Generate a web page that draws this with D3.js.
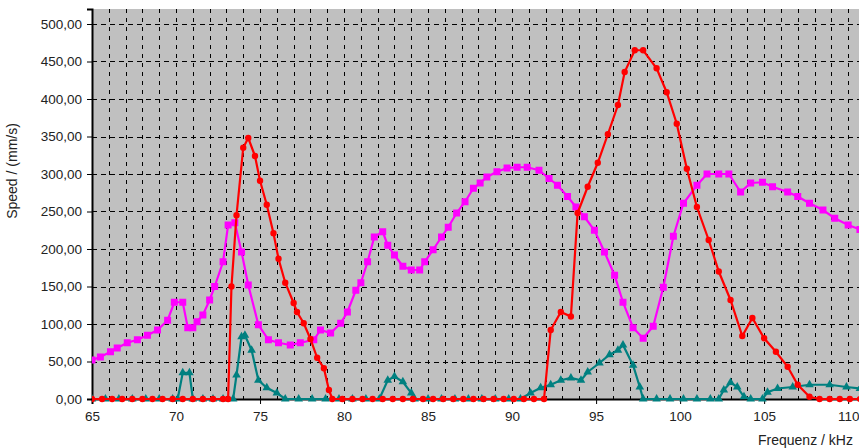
<!DOCTYPE html>
<html>
<head>
  <meta charset="utf-8">
  <title>Speed vs Frequenz</title>
  <script src="https://d3js.org/d3.v7.min.js"></script>
  <style>
    body { margin: 0; background: #fff; }
    .tick text { font-family: 'Liberation Sans', Arial, sans-serif; font-size: 13.5px; fill: #222; }
    .title { font-family: 'Liberation Sans', Arial, sans-serif; font-size: 14px; fill: #222; }
  </style>
</head>
<body>
  <div id="chart"></div>
  <script>
    // data: [frequency kHz, speed mm/s]
    var redPoints = [
      [65,0],[65.6,0],[66.2,0],[66.8,0],[67.4,0],[68,0],[68.6,0],[69.2,0],[69.8,0],[70.4,0],
      [71,0],[71.6,0],[72.2,0],[72.8,0],[73.1,0],[73.3,150],[73.6,245],[74.0,335],[74.3,348],
      [74.7,324],[75.0,291],[75.4,259],[75.8,221],[76.1,187],[76.5,155],[77.0,128],[77.2,116],
      [77.6,101],[78.0,80],[78.4,55],[78.8,41],[79.1,12],[79.3,0],[79.9,0],[80.5,0],[81.1,0],
      [81.7,0],[82.3,0],[82.9,0],[83.5,0],[84.1,0],[84.7,0],[85.3,0],[85.9,0],[86.5,0],[87.1,0],
      [87.7,0],[88.3,0],[88.9,0],[89.5,0],[90.1,0],[90.7,0],[91.3,0],[91.9,0],[92.3,92],
      [92.9,116],[93.5,110],[93.9,248],[94.5,283],[95.1,315],[95.7,353],[96.3,392],[96.7,436],
      [97.3,465],[97.8,465],[98.6,441],[99.2,409],[99.8,367],[100.4,307],[101.0,256],[101.7,212],
      [102.3,170],[103.0,132],[103.7,84],[104.3,108],[105.0,81],[105.7,63],[106.4,43],[107.0,19],
      [107.7,3],[108.3,0],[108.9,0],[109.5,0],[110.1,0],[110.7,0],[111.3,0]
    ];
    var magentaPoints = [
      [65,52],[65.5,56],[66.1,63],[66.5,68],[67.1,75],[67.7,79],[68.3,85],[68.9,92],[69.5,105],
      [69.9,129],[70.4,129],[70.7,95],[71.0,95],[71.25,103],[71.6,112],[72.0,132],[72.3,150],
      [72.8,183],[73.1,232],[73.5,235],[73.9,196],[74.3,152],[74.9,99],[75.5,79],[76.1,75],
      [76.8,72],[77.4,75],[78.2,79],[78.6,92],[79.2,88],[79.8,101],[80.2,116],[80.7,145],
      [81.0,155],[81.4,183],[81.8,216],[82.3,223],[82.6,205],[83.0,192],[83.5,177],[84.0,172],
      [84.5,172],[84.8,183],[85.3,199],[85.8,216],[86.2,229],[86.7,248],[87.2,263],[87.7,281],
      [88.1,288],[88.5,296],[89.1,303],[89.7,308],[90.3,309],[90.9,309],[91.6,305],[92.2,294],
      [92.7,285],[93.3,270],[93.8,256],[94.3,243],[94.9,225],[95.5,196],[96.1,165],[96.6,129],
      [97.2,95],[97.8,81],[98.4,97],[99.0,149],[99.6,217],[100.2,261],[101.0,285],[101.6,300],
      [102.3,300],[102.9,300],[103.6,276],[104.2,288],[104.9,289],[105.5,283],[106.4,276],
      [107.0,270],[107.7,261],[108.5,252],[109.2,241],[110.0,232],[110.7,226],[111.3,221]
    ];
    var tealPoints = [
      [65,0],[65.8,0],[66.6,0],[67.4,0],[68.2,0],[69.0,0],[69.8,0],[70.1,0],[70.4,35],[70.8,35],
      [71.0,0],[71.6,0],[72.2,0],[72.8,0],[73.4,0],[73.6,32],[73.9,83],[74.1,85],[74.5,65],
      [74.9,25],[75.4,15],[76.0,8],[76.5,0],[77.3,0],[78.1,0],[78.9,0],[79.7,0],[80.5,0],
      [81.3,0],[82.1,0],[82.6,25],[83.0,30],[83.5,23],[84.0,8],[84.2,0],[85.0,0],[85.8,0],
      [86.6,0],[87.4,0],[88.2,0],[89.0,0],[89.8,0],[90.5,0],[91.1,8],[91.7,15],[92.3,19],
      [92.9,25],[93.5,28],[94.1,25],[94.5,36],[95.2,48],[95.8,59],[96.3,65],[96.6,72],[97.2,45],
      [97.6,16],[97.8,0],[98.6,0],[99.4,0],[100.2,0],[101.0,0],[101.8,0],[102.3,0],[102.6,12],
      [103.0,22],[103.4,16],[103.8,3],[104.2,0],[104.9,0],[105.2,9],[105.8,14],[106.7,16],
      [107.7,19],[108.9,19],[109.9,16],[110.7,14],[111.3,12]
    ];
    var xTicks = [65, 70, 75, 80, 85, 90, 95, 100, 105, 110];
    var yTicks = [0, 50, 100, 150, 200, 250, 300, 350, 400, 450, 500];

    var W = 859, H = 448;
    var pLeft = 92, pTop = 9, pBottom = 399, pRight = 870;

    var svg = d3.select("#chart").append("svg")
      .attr("width", W).attr("height", H);

    var x = d3.scaleLinear().domain([65, 111.3]).range([pLeft, pRight]);
    var y = d3.scaleLinear().domain([0, 520]).range([pBottom, pTop]);

    // plot background
    svg.append("rect")
      .attr("x", pLeft).attr("y", pTop)
      .attr("width", pRight - pLeft).attr("height", pBottom - pTop)
      .attr("fill", "#c0c0c0");

    svg.append("clipPath").attr("id", "clip")
      .append("rect")
      .attr("x", pLeft).attr("y", pTop - 6)
      .attr("width", pRight - pLeft).attr("height", pBottom - pTop + 12);

    // grid: dashed verticals every kHz, horizontals at the labelled ticks
    var grid = svg.append("g");
    grid.selectAll("line.v")
      .data(d3.range(66, 112))
      .enter().append("line")
        .attr("x1", function(d) { return Math.round(x(d)) + 0.5; })
        .attr("x2", function(d) { return Math.round(x(d)) + 0.5; })
        .attr("y1", pTop).attr("y2", pBottom)
        .attr("stroke", "#000").attr("stroke-width", 1)
        .attr("stroke-dasharray", "4,5");
    grid.selectAll("line.h")
      .data(yTicks.slice(1))
      .enter().append("line")
        .attr("x1", pLeft).attr("x2", pRight)
        .attr("y1", function(d) { return Math.round(y(d)) + 0.5; })
        .attr("y2", function(d) { return Math.round(y(d)) + 0.5; })
        .attr("stroke", "#000").attr("stroke-width", 1)
        .attr("stroke-dasharray", "5,4");

    // axes
    var fmt = function(d) { return d3.format(".2f")(d).replace(".", ","); };
    svg.append("g")
      .attr("transform", "translate(" + pLeft + ",0)")
      .call(d3.axisLeft(y).tickValues(yTicks).tickFormat(fmt).tickSize(5).tickPadding(5))
      .call(function(g) { g.select(".domain").attr("stroke-width", 2); });
    svg.append("g")
      .attr("transform", "translate(0," + pBottom + ")")
      .call(d3.axisBottom(x).tickValues(xTicks).tickFormat(d3.format("d")).tickSize(5).tickPadding(7))
      .call(function(g) { g.select(".domain").attr("stroke-width", 2); });

    // series
    var line = d3.line()
      .x(function(d) { return x(d[0]); })
      .y(function(d) { return y(d[1]); });
    var plot = svg.append("g").attr("clip-path", "url(#clip)");

    function drawSeries(data, color, symbol, size) {
      plot.append("path")
        .datum(data)
        .attr("fill", "none")
        .attr("stroke", color)
        .attr("stroke-width", 2.2)
        .attr("d", line);
      plot.append("g").selectAll("path")
        .data(data)
        .enter().append("path")
          .attr("transform", function(d) { return "translate(" + x(d[0]) + "," + y(d[1]) + ")"; })
          .attr("d", d3.symbol().type(symbol).size(size))
          .attr("fill", color);
    }
    drawSeries(tealPoints, "#008080", d3.symbolTriangle, 32);
    drawSeries(magentaPoints, "#ff00ff", d3.symbolSquare, 49);
    drawSeries(redPoints, "#ff0000", d3.symbolCircle, 32);

    // titles
    svg.append("text")
      .attr("class", "title")
      .attr("transform", "translate(17,171) rotate(-90)")
      .attr("text-anchor", "middle")
      .text("Speed / (mm/s)");
    svg.append("text")
      .attr("class", "title")
      .attr("x", 758).attr("y", 445)
      .text("Frequenz / kHz");
  </script>
</body>
</html>
